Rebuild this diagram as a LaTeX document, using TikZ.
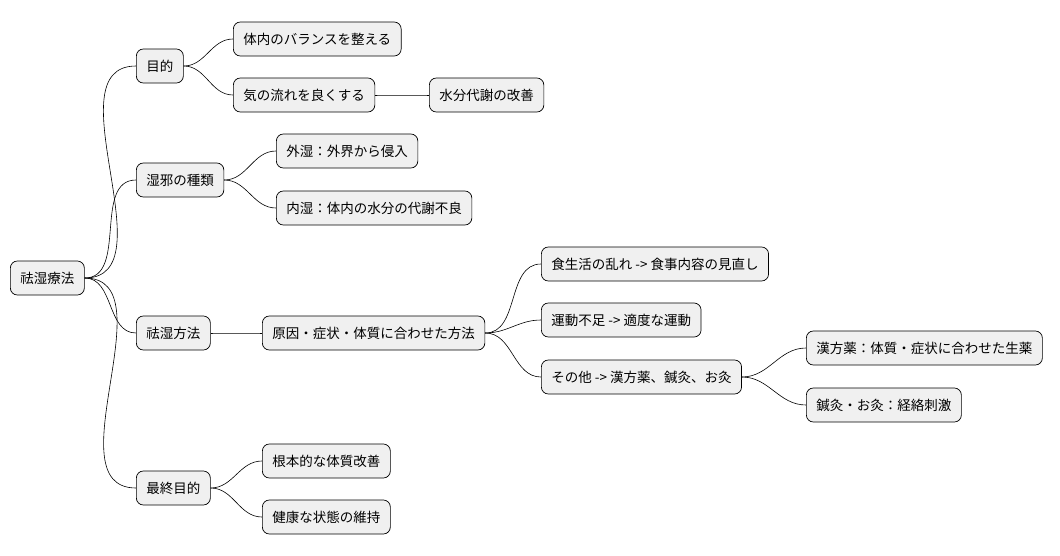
\documentclass[tikz,border=0pt]{standalone}
\usepackage{fontspec}
\setmainfont{Noto Sans CJK JP}
\begin{document}
\begin{tikzpicture}[x=1pt,y=-1pt]
    \tikzset{idea/.style={draw=black,fill=black!6,rounded corners=7pt,line width=0.7pt,
        anchor=west,minimum height=34pt,inner xsep=10pt,font=\fontsize{13.5}{15}\selectfont},
        link/.style={draw=black,line width=0.6pt}}
    \useasboundingbox (0,0) rectangle (1060,555);
    \node [idea] (root) at (10,278) {祛湿療法};
    \node [idea] (aim) at (136,66) {目的};
    \node [idea] (bal) at (233,39) {体内のバランスを整える};
    \node [idea] (qi) at (233,95) {気の流れを良くする};
    \node [idea] (water) at (429,95) {水分代謝の改善};
    \node [idea] (kind) at (136,180) {湿邪の種類};
    \node [idea] (out) at (276,151) {外湿：外界から侵入};
    \node [idea] (in) at (276,208) {内湿：体内の水分の代謝不良};
    \node [idea] (way) at (136,333) {祛湿方法};
    \node [idea] (fit) at (262,333) {原因・症状・体質に合わせた方法};
    \node [idea] (food) at (541,264) {食生活の乱れ -> 食事内容の見直し};
    \node [idea] (move) at (541,320) {運動不足 -> 適度な運動};
    \node [idea] (other) at (541,377) {その他 -> 漢方薬、鍼灸、お灸};
    \node [idea] (herb) at (806,348) {漢方薬：体質・症状に合わせた生薬};
    \node [idea] (acu) at (806,405) {鍼灸・お灸：経絡刺激};
    \node [idea] (goal) at (136,488) {最終目的};
    \node [idea] (base) at (262,461) {根本的な体質改善};
    \node [idea] (keep) at (262,517) {健康な状態の維持};
    % branches
    \foreach \a/\b in {root/aim,root/kind,root/way,root/goal,aim/bal,aim/qi,qi/water,
        kind/out,kind/in,way/fit,fit/food,fit/move,fit/other,other/herb,other/acu,
        goal/base,goal/keep}
        \draw [link] (\a.east) to[out=0,in=180] (\b.west);
\end{tikzpicture}
\end{document}
